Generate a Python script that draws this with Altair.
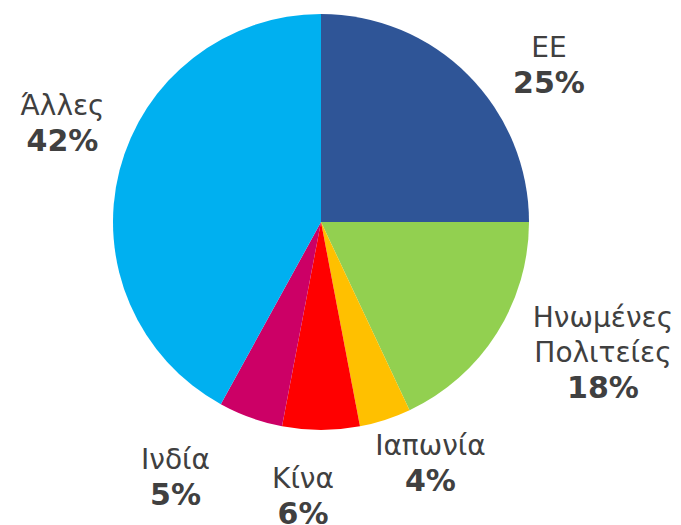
import altair as alt
import pandas as pd

# ---- data ----
regions = ["ΕΕ", "Ηνωμένες\nΠολιτείες", "Ιαπωνία", "Κίνα", "Ινδία", "Άλλες"]
shares = [25, 18, 4, 6, 5, 42]
colors = ["#2F5597", "#92D050", "#FFC000", "#FF0000", "#CC0066", "#00B0F0"]

# ---- label layout (nudges in px from the mid-angle anchor) ----
label_dx = [37, 54, 26, -18, -54, 3]
label_dy = [18, -48, -32, -12, -15, -48]

df = pd.DataFrame({
    "idx": list(range(len(regions))),
    "region": regions,
    "share": shares,
    "pct": [f"{s}%" for s in shares],
    "nlines": [r.count("\n") + 1 for r in regions],
    "ldx": label_dx,
    "ldy": label_dy,
})

LH = 35
base = alt.Chart(df).encode(
    theta=alt.Theta("share:Q", stack=True),
    order=alt.Order("idx:Q"),
    x=alt.value(313),
    y=alt.value(214),
)

pie = base.mark_arc(outerRadius=208, stroke=None).encode(
    color=alt.Color("region:N", scale=alt.Scale(domain=regions, range=colors), legend=None)
)

names = base.mark_text(
    radius=270, font="DejaVu Sans", fontSize=28, color="#404040",
    align="center", baseline="middle", lineBreak="\n", lineHeight=LH,
    dx={"expr": "datum.ldx"}, dy={"expr": "datum.ldy"},
).encode(text="region:N")

pcts = base.mark_text(
    radius=270, font="DejaVu Sans", fontSize=30, fontWeight="bold", color="#404040",
    align="center", baseline="middle",
    dx={"expr": "datum.ldx"}, dy={"expr": f"datum.ldy + datum.nlines*{LH}"},
).encode(text="pct:N")

chart = alt.layer(pie, names, pcts).properties(
    width=665, height=517,
    autosize=alt.AutoSizeParams(type="none"),
    padding=0,
).configure_view(strokeWidth=0)

chart.save("out.html", embed_options={"renderer": "svg", "actions": False})
